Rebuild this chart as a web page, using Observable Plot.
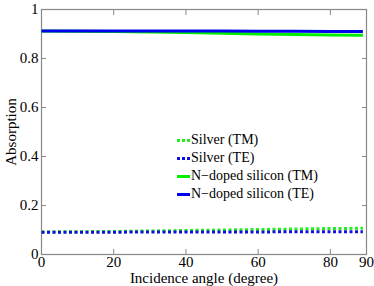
<!DOCTYPE html>
<html><head><meta charset="utf-8">
<script src="https://cdn.jsdelivr.net/npm/d3@7"></script>
<script src="https://cdn.jsdelivr.net/npm/@observablehq/plot@0.6"></script>
</head><body style="margin:0;background:#fff;font-family:'Liberation Serif',serif">
<div id="wrap" style="position:relative;width:374px;height:286px;font-family:'Liberation Serif',serif"><div id="legend" style="position:absolute;left:177px;top:131px;font-size:14px;line-height:18px;font-family:'Liberation Serif',serif"></div></div>
<script>
const angles = [0, 10, 20, 30, 40, 50, 60, 70, 80, 89];
const silverTM = [0.092, 0.093, 0.094, 0.096, 0.098, 0.100, 0.102, 0.104, 0.106, 0.107];
const silverTE = [0.091, 0.091, 0.091, 0.092, 0.092, 0.092, 0.092, 0.093, 0.093, 0.093];
const siliconTM = [0.912, 0.911, 0.910, 0.908, 0.906, 0.903, 0.900, 0.898, 0.896, 0.895];
const siliconTE = [0.912, 0.912, 0.912, 0.912, 0.912, 0.912, 0.911, 0.911, 0.910, 0.910];
const seriesNames = ["Silver (TM)", "Silver (TE)", "N\u2212doped silicon (TM)", "N\u2212doped silicon (TE)"];
const seriesColors = ["#22ee22", "#1010dd", "#00ee00", "#0000ee"];
const seriesDash = ["3,2.5", "3,2.5", null, null];
const xTicks = [0, 20, 40, 60, 80, 90];
const yTicks = [0, 0.2, 0.4, 0.6, 0.8, 1];
const xLabel = "Incidence angle (degree)";
const yLabel = "Absorption";

const allValues = [silverTM, silverTE, siliconTM, siliconTE];
const rows = [];
allValues.forEach((vals, s) => vals.forEach((v, i) => rows.push({series: seriesNames[s], x: angles[i], y: v})));

const axisColor = "#888";
const font = "'Liberation Serif', serif";
const marks = [
  Plot.frame({stroke: axisColor, strokeWidth: 1.2}),
  Plot.axisX({anchor: "bottom", ticks: xTicks, tickSize: -5, stroke: axisColor, tickFormat: () => "", label: null}),
  Plot.axisX({anchor: "top", ticks: xTicks.slice(1, -1), tickSize: -5, stroke: axisColor, tickFormat: () => "", label: null}),
  Plot.axisX({anchor: "bottom", ticks: xTicks, tickSize: 0, tickPadding: 2, fontSize: 15, fill: "#000", label: xLabel, labelAnchor: "center", labelOffset: 28, labelArrow: "none"}),
  Plot.axisY({anchor: "left", ticks: yTicks, tickSize: -5, stroke: axisColor, tickFormat: () => "", label: null}),
  Plot.axisY({anchor: "right", ticks: yTicks.slice(1, -1), tickSize: -5, stroke: axisColor, tickFormat: () => "", label: null}),
  Plot.axisY({anchor: "left", ticks: yTicks, tickSize: 0, tickPadding: 3, fontSize: 15, fill: "#000", tickFormat: d => String(d), label: yLabel, labelAnchor: "center", labelOffset: 36, labelArrow: "none"})
];
seriesNames.forEach((name, s) => {
  marks.push(Plot.line(rows.filter(r => r.series === name), {
    x: "x", y: "y", stroke: seriesColors[s], strokeWidth: 3,
    strokeDasharray: seriesDash[s] || undefined, strokeLinecap: "butt"
  }));
});
const chart = Plot.plot({
  width: 374, height: 286,
  marginLeft: 41, marginRight: 8, marginTop: 9, marginBottom: 32,
  style: {fontFamily: "Liberation Serif", fontSize: "15px", background: "#fff"},
  x: {domain: [0, 90]},
  y: {domain: [0, 1]},
  marks
});
chart.style.setProperty("font-family", font, "important");
chart.querySelectorAll("text, g").forEach(el => {
  el.style.setProperty("font-family", font, "important");
});
const wrap = document.getElementById("wrap");
wrap.insertBefore(chart, wrap.firstChild);
const leg = document.getElementById("legend");
seriesNames.forEach((name, s) => {
  const d = document.createElement("div");
  d.style.display = "flex";
  d.style.alignItems = "center";
  d.style.whiteSpace = "nowrap";
  d.style.setProperty("font-family", font, "important");
  const sw = document.createElement("span");
  sw.style.width = "13px";
  sw.style.height = "0";
  sw.style.marginRight = "1px";
  sw.style.borderTop = `3px ${seriesDash[s] ? "dotted" : "solid"} ${seriesColors[s]}`;
  d.appendChild(sw);
  d.appendChild(document.createTextNode(name));
  leg.appendChild(d);
});
</script>
</body></html>
